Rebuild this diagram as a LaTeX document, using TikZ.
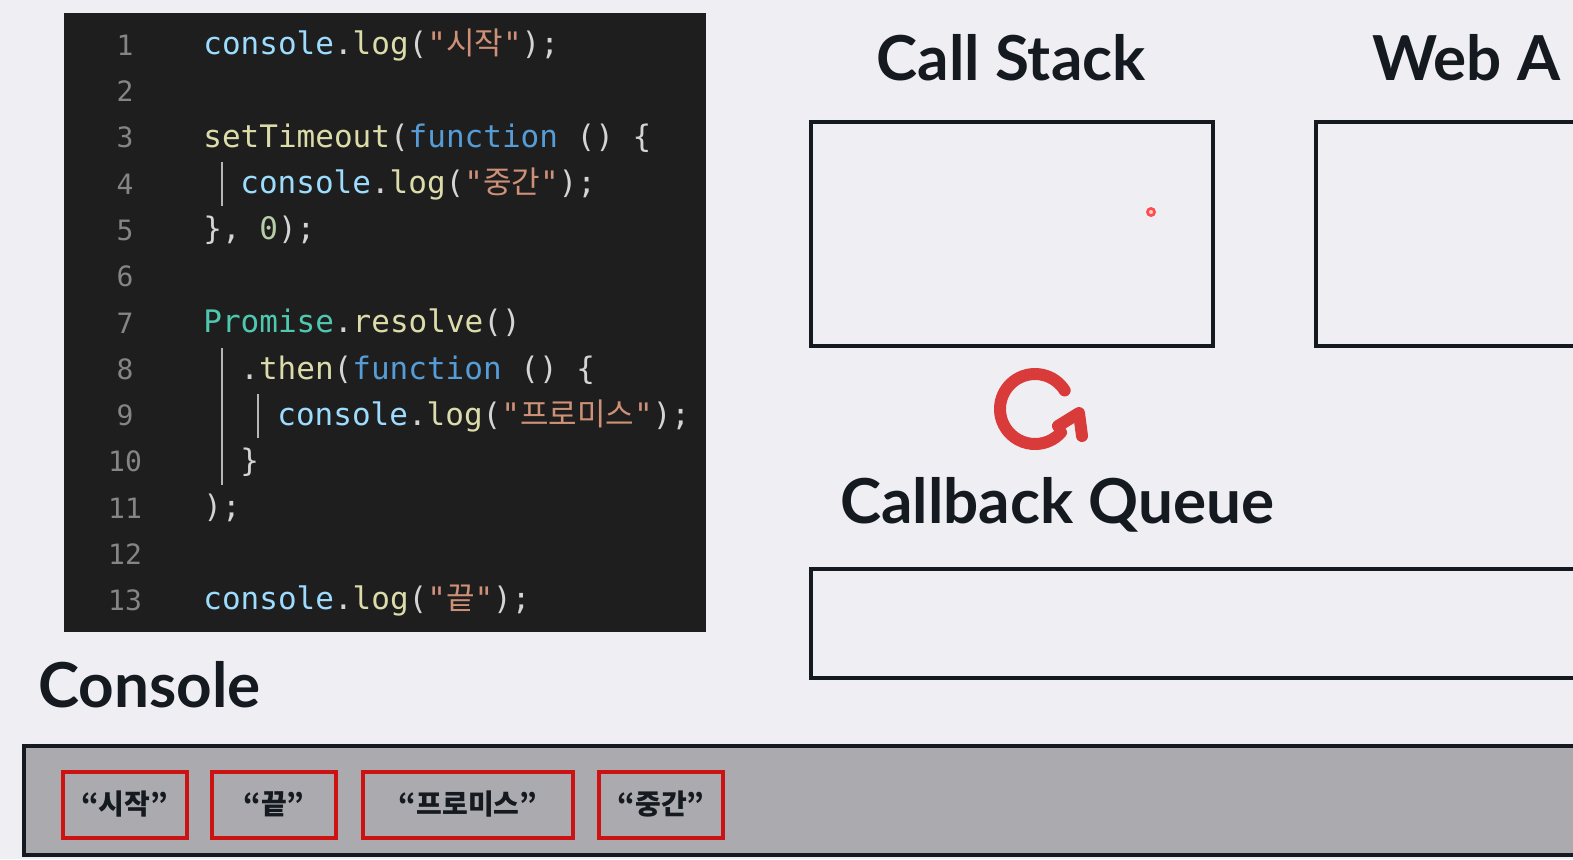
\documentclass[tikz,border=0pt]{standalone}
\usepackage{fontspec}
\setmainfont{Lato}
\newfontfamily\cjk{Noto Sans CJK KR}
\setmonofont{DejaVu Sans Mono}
\newfontfamily\monokr{Noto Sans CJK KR}
\definecolor{bg}{HTML}{EFEEF3}
\definecolor{panel}{HTML}{1E1E1E}
\definecolor{lnum}{HTML}{858585}
\definecolor{cvar}{HTML}{9CDCFE}
\definecolor{cstr}{HTML}{CE9178}
\definecolor{ckw}{HTML}{569CD6}
\definecolor{cfn}{HTML}{DCDCAA}
\definecolor{ccls}{HTML}{4EC9B0}
\definecolor{cnum}{HTML}{B5CEA8}
\definecolor{ctxt}{HTML}{D4D4D4}
\definecolor{dark}{HTML}{141A1F}
\definecolor{bar}{HTML}{ABAAAF}
\definecolor{redb}{HTML}{CC1212}
\definecolor{loopred}{HTML}{D93A3A}
\newcommand{\V}[1]{\textcolor{cvar}{#1}}
\newcommand{\T}[1]{\textcolor{ctxt}{#1}}
\newcommand{\Sx}[1]{\textcolor{cstr}{#1}}
\newcommand{\K}[1]{\textcolor{ckw}{#1}}
\newcommand{\F}[1]{\textcolor{cfn}{#1}}
\newcommand{\Kr}[1]{{\monokr #1}}
\tikzset{
  codeline/.style={anchor=west,inner sep=0,font=\ttfamily\fontsize{15.5}{18}\selectfont},
  lnumst/.style={anchor=center,inner sep=0,text=lnum,font=\ttfamily\fontsize{14}{16}\selectfont},
  title/.style={anchor=center,inner sep=0,text=dark,font=\bfseries\fontsize{31}{34}\selectfont},
  frame/.style={draw=dark,line width=2pt},
  item/.style={draw=redb,line width=2pt,inner sep=0,font=\cjk\bfseries\fontsize{14}{16}\selectfont,text=dark,minimum height=33pt}
}
\begin{document}
\begin{tikzpicture}[x=0.5pt,y=-0.5pt]
\clip (0,0) rectangle (1573,859);
\fill[bg] (0,0) rectangle (1573,859);
% code panel
\fill[panel] (64,13) rectangle (706,632);
\foreach \n in {1,...,13}{
  \node[lnumst] (ln\n) at (125,{45+46.3*(\n-1)}) {\n};
}
\draw[lnum!60,line width=0.6pt] (222,162) -- (222,206);
\draw[lnum!60,line width=0.6pt] (222,348) -- (222,485);
\draw[lnum!60,line width=0.6pt] (258,394) -- (258,438);
\node[codeline] (c1) at (203,45) {\V{console}\T{.}\F{log}\T{(}\Sx{"\Kr{시작}"}\T{);}};
\node[codeline] (c3) at (203,138) {\F{setTimeout}\T{(}\K{function}\T{~() \{}};
\node[codeline] (c4) at (240,184) {\V{console}\T{.}\F{log}\T{(}\Sx{"\Kr{중간}"}\T{);}};
\node[codeline] (c5) at (203,230) {\T{\},~}\textcolor{cnum}{0}\T{);}};
\node[codeline] (c7) at (203,323) {\textcolor{ccls}{Promise}\T{.}\F{resolve}\T{()}};
\node[codeline] (c8) at (240,370) {\T{.}\F{then}\T{(}\K{function}\T{~() \{}};
\node[codeline] (c9) at (277,416) {\V{console}\T{.}\F{log}\T{(}\Sx{"\Kr{프로미스}"}\T{);}};
\node[codeline] (c10) at (240,462) {\T{\}}};
\node[codeline] (c11) at (203,508) {\T{);}};
\node[codeline] (c13) at (203,601) {\V{console}\T{.}\F{log}\T{(}\Sx{"\Kr{끝}"}\T{);}};
% titles and boxes
\node[title] (cst) at (1011,58) {Call Stack};
\node[title,anchor=west] (web) at (1372,58) {Web A};
\draw[frame] (811,122) rectangle (1213,346);
\draw[frame] (1316,122) rectangle (1600,346);
\node[title] (cbq) at (1057,505) {Callback Queue};
\draw[frame] (811,569) rectangle (1600,678);
\node[title,anchor=west] (con) at (38,685) {Console};
% event loop arrow
\coordinate (loopc) at (1035,409);
\draw[loopred,line width=6pt,line cap=round,line join=round]
  ([shift={(-32:35)}]loopc) arc[start angle=-32,end angle=-318,radius=35];
\draw[loopred,line width=6pt,line cap=round,line join=round]
  (1058,426) -- (1079,413) -- (1082,436);
% pointer dot
\fill[red!70] (1151,212) circle (5);
\fill[white!80!red] (1151,212) circle (2);
% console bar
\draw[frame,fill=bar] (24,746) rectangle (1600,855);
\node[item,minimum width=62pt] (o1) at (124.5,804.5) {“시작”};
\node[item,minimum width=62pt] (o2) at (274,804.5) {“끝”};
\node[item,minimum width=105pt] (o3) at (468,804.5) {“프로미스”};
\node[item,minimum width=62pt] (o4) at (661,804.5) {“중간”};
\end{tikzpicture}
\end{document}
